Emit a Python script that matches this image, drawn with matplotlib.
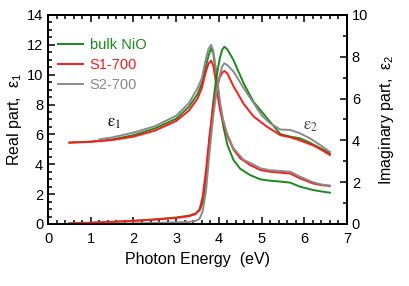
import matplotlib
matplotlib.use("Agg")
import matplotlib.pyplot as plt
from matplotlib.ticker import MultipleLocator

plt.rcParams["font.family"] = ["Liberation Sans", "DejaVu Sans"]
plt.rcParams["mathtext.fontset"] = "stix"

# real part (left axis)
e1_bulk_x = [0.5, 1.0, 1.5, 2.0, 2.5, 3.0, 3.3, 3.5, 3.6, 3.7, 3.76, 3.82, 3.87, 3.92, 3.97, 4.03, 4.1, 4.2, 4.34, 4.5,
             4.73, 4.97, 5.2, 5.44, 5.67, 5.9, 6.2, 6.4, 6.6]
e1_bulk = [5.45, 5.52, 5.66, 5.95, 6.4, 7.05, 7.85, 8.7, 9.4, 10.6, 11.3, 11.77, 11.4, 10.4, 9.2, 7.9, 6.6, 5.3, 4.3, 3.7,
           3.28, 2.99, 2.9, 2.84, 2.77, 2.5, 2.28, 2.18, 2.1]
e1_s1_x = [0.5, 1.0, 1.5, 2.0, 2.5, 3.0, 3.3, 3.5, 3.6, 3.7, 3.76, 3.82, 3.87, 3.92, 3.97, 4.03, 4.1, 4.2, 4.34, 4.5,
           4.73, 4.97, 5.2, 5.44, 5.67, 5.9, 6.2, 6.4, 6.6]
e1_s1 = [5.45, 5.5, 5.62, 5.85, 6.25, 6.9, 7.6, 8.4, 9.1, 10.25, 10.75, 10.94, 10.6, 9.7, 8.6, 7.6, 6.8, 5.9, 5.0, 4.4,
         3.95, 3.62, 3.5, 3.44, 3.38, 3.06, 2.72, 2.6, 2.55]
e1_s2_x = [1.2, 1.5, 2.0, 2.5, 3.0, 3.3, 3.5, 3.6, 3.7, 3.76, 3.82, 3.87, 3.92, 3.97, 4.03, 4.1, 4.19, 4.34, 4.58,
           4.73, 4.97, 5.2, 5.44, 5.67, 5.9, 6.2, 6.4, 6.6]
e1_s2 = [5.67, 5.8, 6.12, 6.55, 7.25, 8.1, 9.1, 9.75, 11.1, 11.75, 12.0, 11.6, 10.6, 9.5, 8.1, 7.0, 6.07, 5.07, 4.3,
         4.1, 3.73, 3.6, 3.55, 3.5, 3.17, 2.8, 2.65, 2.57]

# imaginary part (right axis)
e2_bulk_x = [0.5, 1.0, 1.5, 2.0, 2.5, 3.0, 3.3, 3.45, 3.55, 3.62, 3.7, 3.78, 3.86, 3.94, 4.02, 4.08, 4.13, 4.2, 4.34,
             4.58, 4.81, 5.13, 5.44, 5.67, 5.9, 6.13, 6.4, 6.6]
e2_bulk = [0.03, 0.06, 0.1, 0.15, 0.22, 0.31, 0.4, 0.5, 0.65, 1.0, 2.2, 4.0, 5.7, 7.0, 7.9, 8.35, 8.48, 8.35, 7.85,
           6.73, 5.85, 5.06, 4.3, 4.18, 4.1, 3.89, 3.6, 3.38]
e2_s1_x = [0.5, 1.0, 1.5, 2.0, 2.5, 3.0, 3.3, 3.45, 3.55, 3.62, 3.7, 3.78, 3.86, 3.94, 4.02, 4.08, 4.13, 4.2, 4.34,
           4.58, 4.81, 5.13, 5.44, 5.67, 5.9, 6.22, 6.4, 6.6]
e2_s1 = [0.03, 0.06, 0.1, 0.15, 0.21, 0.29, 0.37, 0.47, 0.7, 1.3, 2.6, 4.2, 5.5, 6.4, 7.0, 7.25, 7.32, 7.2, 6.6,
         5.75, 5.15, 4.65, 4.25, 4.15, 4.0, 3.75, 3.55, 3.3]
e2_s2_x = [1.2, 1.5, 2.0, 2.5, 3.0, 3.3, 3.45, 3.55, 3.62, 3.7, 3.78, 3.86, 3.94, 4.02, 4.08, 4.13, 4.2, 4.34, 4.58,
           4.81, 5.0, 5.2, 5.44, 5.67, 5.9, 6.13, 6.37, 6.6]
e2_s2 = [0.0, 0.01, 0.03, 0.05, 0.08, 0.1, 0.14, 0.25, 0.6, 1.6, 3.4, 5.0, 6.3, 7.1, 7.55, 7.69, 7.6, 7.3, 6.5,
         5.8, 5.2, 4.82, 4.52, 4.5, 4.34, 4.1, 3.78, 3.45]

labels = ["bulk NiO", "S1-700", "S2-700"]
colors = ["#1a8a1a", "#ff1a1a", "#8a8a8a"]

fig = plt.figure(figsize=(4.09, 2.86), dpi=100)
ax = fig.add_axes([0.1174, 0.2168, 0.731, 0.7308])
ax2 = ax.twinx()

lw = 1.4
for xs, ys, c, lab in zip([e1_bulk_x, e1_s1_x, e1_s2_x], [e1_bulk, e1_s1, e1_s2], colors, labels):
    ax.plot(xs, ys, color=c, lw=lw, label=lab)
for xs, ys, c in zip([e2_bulk_x, e2_s1_x, e2_s2_x], [e2_bulk, e2_s1, e2_s2], colors):
    ax2.plot(xs, ys, color=c, lw=lw)

ax.set_xlim(0, 7)
ax.set_ylim(0, 14)
ax2.set_ylim(0, 10)
ax.xaxis.set_major_locator(MultipleLocator(1))
ax.xaxis.set_minor_locator(MultipleLocator(0.2))
ax.yaxis.set_major_locator(MultipleLocator(2))
ax.yaxis.set_minor_locator(MultipleLocator(0.5))
ax2.yaxis.set_major_locator(MultipleLocator(2))
ax2.yaxis.set_minor_locator(MultipleLocator(1))

ax.tick_params(which="both", direction="in", top=True, right=False, width=1.1, labelsize=10.5)
ax.tick_params(axis="x", pad=6)
ax.tick_params(which="major", length=5)
ax.tick_params(which="minor", length=3)
ax2.tick_params(which="both", direction="in", width=1.1, labelsize=10.5)
ax2.tick_params(which="major", length=5)
ax2.tick_params(which="minor", length=3)
for a in (ax, ax2):
    for s in a.spines.values():
        s.set_linewidth(1.3)

ax.set_xlabel("Photon Energy  (eV)", fontsize=11.5, labelpad=4)
ax.set_ylabel(r"Real part,  $\mathregular{ε_1}$", fontsize=11.5, labelpad=2)
ax2.set_ylabel(r"Imaginary part,  $\mathregular{ε_2}$", fontsize=11.5, labelpad=6)

ax.text(1.38, 6.5, r"$\mathrm{ε}_1$", fontsize=12, color="black")
ax2.text(5.98, 4.5, r"$\mathrm{ε}_2$", fontsize=12, color="#444444")

ax.legend(loc="upper left", bbox_to_anchor=(0.035, 0.89), frameon=False, fontsize=10.5,
          labelcolor="linecolor", handlelength=1.7, handletextpad=0.45, labelspacing=0.42,
          borderpad=0, borderaxespad=0)

fig.savefig("out.png", dpi=100)
